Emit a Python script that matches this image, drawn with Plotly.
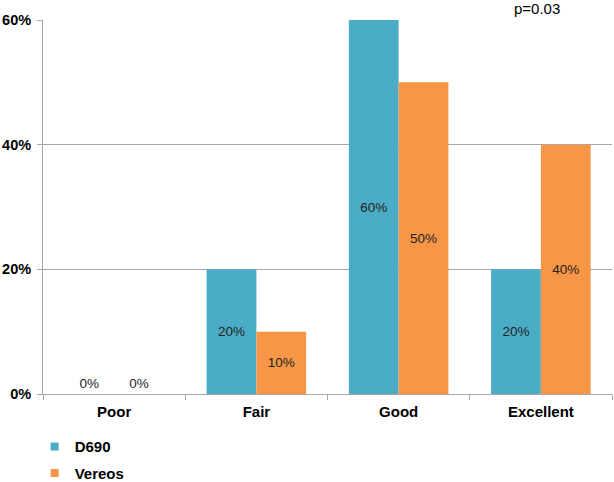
import plotly.graph_objects as go

categories = ["Poor", "Fair", "Good", "Excellent"]
d690 = [0, 20, 60, 20]
vereos = [0, 10, 50, 40]
y_ticks = [0, 20, 40, 60]
y_tick_labels = ["0%", "20%", "40%", "60%"]
series_names = ["D690", "Vereos"]
series_colors = ["#4BACC6", "#F79646"]

FONT = "Liberation Sans, Arial"

def pos(vals):
    return ["outside" if v == 0 else "inside" for v in vals]

fig = go.Figure()
for name, vals, col in zip(series_names, [d690, vereos], series_colors):
    fig.add_trace(go.Bar(
        name=name, x=categories, y=vals,
        marker=dict(color=col, line=dict(width=0)),
        text=[f"{v}%" for v in vals], textposition=pos(vals),
        insidetextanchor="middle",
        textfont=dict(family=FONT, size=13.5, color="#222222"),
        cliponaxis=False, showlegend=False, legendgroup=name,
        hoverinfo="skip",
    ))
# legend proxies with small square symbols
for name, col in zip(series_names, series_colors):
    fig.add_trace(go.Scatter(
        name=name, x=[None], y=[None], mode="markers",
        marker=dict(symbol="square", size=8, color=col),
        legendgroup=name, showlegend=True, hoverinfo="skip",
    ))

fig.update_layout(
    width=614, height=482,
    margin=dict(l=43, r=2, t=20, b=88, autoexpand=False),
    plot_bgcolor="white", paper_bgcolor="white",
    barmode="group", bargap=0.3, bargroupgap=0,
    font=dict(family=FONT, color="#000000"),
    hovermode=False,
    showlegend=True,
    legend=dict(
        orientation="v", x=-0.0147, y=-0.097, xanchor="left", yanchor="top",
        font=dict(size=15, color="#000000", weight="bold"),
        itemwidth=30, tracegroupgap=4, bgcolor="rgba(0,0,0,0)",
    ),
)
fig.update_yaxes(
    range=[0, 60], tickvals=y_ticks, ticktext=y_tick_labels,
    showgrid=True, gridcolor="#A6A6A6", gridwidth=1,
    showline=True, linecolor="#A6A6A6", linewidth=1,
    ticks="outside", ticklen=5, tickcolor="#A6A6A6",
    ticklabelstandoff=3,
    tickfont=dict(size=14.5, color="#000000", weight="bold"),
    zeroline=False, fixedrange=True,
)
fig.update_xaxes(
    showline=True, linecolor="#A6A6A6", linewidth=1,
    ticks="outside", ticklen=5, tickcolor="#A6A6A6", tickson="boundaries",
    ticklabelstandoff=4,
    tickfont=dict(size=15, color="#000000", weight="bold"),
    showgrid=False, fixedrange=True,
)
fig.add_annotation(
    text="p=0.03", xref="paper", yref="paper", x=0.868, y=1.0,
    xanchor="center", yanchor="bottom", showarrow=False,
    font=dict(size=15, color="#000000"), yshift=1,
)

fig.write_html(
    "out.html",
    config={"displayModeBar": False, "staticPlot": True},
    post_script="document.body.style.margin='0';document.body.style.padding='0';",
)
